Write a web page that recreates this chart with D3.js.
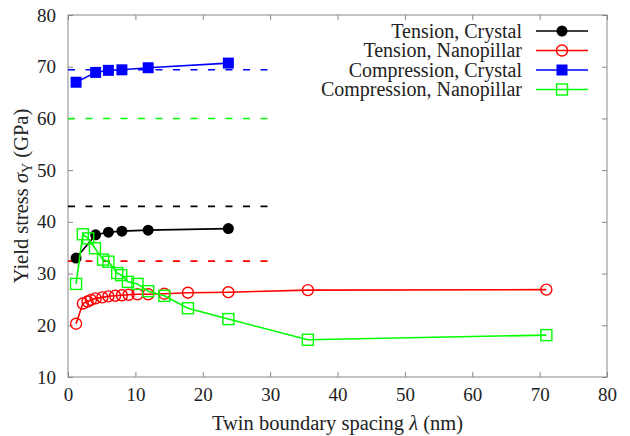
<!DOCTYPE html>
<html><head><meta charset="utf-8">
<script src="https://cdn.jsdelivr.net/npm/d3@7"></script>
<style>body{margin:0;background:#fff}svg{display:block}</style>
</head><body><svg id="c" width="630" height="436"></svg>
<script>
// Data
const seriesNames = ["Tension, Crystal","Tension, Nanopillar","Compression, Crystal","Compression, Nanopillar"];
const tensionCrystalX = [1.2, 4.1, 6.0, 8.0, 11.9, 23.8];
const tensionCrystalY = [33.0, 37.5, 38.0, 38.2, 38.4, 38.7];
const tensionPillarX = [1.2, 2.2, 2.9, 3.4, 4.1, 5.1, 6.0, 7.0, 8.0, 9.0, 10.3, 11.9, 14.3, 17.8, 23.8, 35.6, 71.0];
const tensionPillarY = [20.3, 24.2, 24.6, 24.9, 25.2, 25.4, 25.6, 25.7, 25.8, 25.9, 26.0, 26.0, 26.1, 26.3, 26.4, 26.8, 26.9];
const compCrystalX = [1.2, 4.1, 6.0, 8.0, 11.9, 23.8];
const compCrystalY = [67.0, 68.9, 69.3, 69.4, 69.8, 70.7];
const compPillarX = [1.2, 2.2, 3.0, 4.0, 5.2, 6.0, 7.3, 7.9, 8.9, 10.3, 11.9, 14.3, 17.8, 23.8, 35.6, 71.0];
const compPillarY = [28.0, 37.6, 36.8, 34.9, 32.7, 32.3, 30.1, 29.7, 28.4, 28.0, 26.6, 25.7, 23.3, 21.2, 17.2, 18.1];
const refLevels = [43.0, 32.4, 69.4, 60.0]; // dashed reference lines, same order as seriesNames
const refRange = [0, 30];
const xTicks = [0,10,20,30,40,50,60,70,80];
const yTicks = [10,20,30,40,50,60,70,80];
const colors = ["#000000","#ff0000","#0000ff","#00ff00"];
const markers = ["circleFilled","circleOpen","squareFilled","squareOpen"];

const F = "Liberation Serif";
const svg = d3.select("#c");
const L=68, R=607, T=15, B=377;
const x = d3.scaleLinear().domain([0,80]).range([L,R]);
const y = d3.scaleLinear().domain([10,80]).range([B,T]);

const series = [
  {xs:tensionCrystalX, ys:tensionCrystalY},
  {xs:tensionPillarX, ys:tensionPillarY},
  {xs:compCrystalX, ys:compCrystalY},
  {xs:compPillarX, ys:compPillarY}
].map((s,i)=>({name:seriesNames[i], color:colors[i], marker:markers[i], ref:refLevels[i],
  pts:s.xs.map((v,j)=>[v,s.ys[j]])}));

// frame
const frameColor="#888";
svg.append("rect").attr("x",L).attr("y",T).attr("width",R-L).attr("height",B-T)
  .attr("fill","none").attr("stroke",frameColor).attr("stroke-width",1);

// axes with inward ticks
const ax = svg.append("g").attr("transform",`translate(0,${B})`)
  .call(d3.axisBottom(x).tickValues(xTicks).tickSizeInner(-5).tickSizeOuter(0).tickPadding(11).tickFormat(d3.format("d")));
const axTop = svg.append("g").attr("transform",`translate(0,${T})`)
  .call(d3.axisTop(x).tickValues(xTicks).tickSizeInner(-5).tickSizeOuter(0).tickFormat(""));
const ay = svg.append("g").attr("transform",`translate(${L},0)`)
  .call(d3.axisLeft(y).tickValues(yTicks).tickSizeInner(-5).tickSizeOuter(0).tickPadding(12).tickFormat(d3.format("d")));
const ayR = svg.append("g").attr("transform",`translate(${R},0)`)
  .call(d3.axisRight(y).tickValues(yTicks).tickSizeInner(-5).tickSizeOuter(0).tickFormat(""));
[ax,axTop,ay,ayR].forEach(g=>{
  g.select(".domain").remove();
  g.selectAll(".tick line").attr("stroke",frameColor);
  g.selectAll("text").attr("font-family",F).attr("font-size",19).attr("fill","#222");
});

// dashed reference lines
series.forEach(s=>{
  svg.append("line").attr("x1",x(refRange[0])).attr("x2",x(refRange[1]))
    .attr("y1",y(s.ref)).attr("y2",y(s.ref))
    .attr("stroke",s.color).attr("stroke-width",1.6).attr("stroke-dasharray","7,10.5");
});

function drawMarker(g, type, color, cx, cy){
  if(type==="circleFilled") g.append("circle").attr("cx",cx).attr("cy",cy).attr("r",5.5).attr("fill",color);
  else if(type==="circleOpen") g.append("circle").attr("cx",cx).attr("cy",cy).attr("r",5.5).attr("fill","none").attr("stroke",color).attr("stroke-width",1.4);
  else if(type==="squareFilled") g.append("rect").attr("x",cx-5.5).attr("y",cy-5.5).attr("width",11).attr("height",11).attr("fill",color);
  else g.append("rect").attr("x",cx-5.5).attr("y",cy-5.5).attr("width",11).attr("height",11).attr("fill","none").attr("stroke",color).attr("stroke-width",1.4);
}

const line = d3.line().x(d=>x(d[0])).y(d=>y(d[1]));
series.forEach(s=>{
  const g = svg.append("g");
  g.append("path").attr("d",line(s.pts)).attr("fill","none").attr("stroke",s.color).attr("stroke-width",1.6);
  s.pts.forEach(p=>drawMarker(g,s.marker,s.color,x(p[0]),y(p[1])));
});

// legend
series.forEach((s,i)=>{
  const yy = 31 + i*19.5;
  svg.append("text").attr("x",522).attr("y",yy+6.5).attr("text-anchor","end")
    .attr("fill","#222").attr("font-family",F).attr("font-size",20).text(s.name);
  svg.append("line").attr("x1",536).attr("x2",588).attr("y1",yy).attr("y2",yy).attr("stroke",s.color).attr("stroke-width",1.6);
  drawMarker(svg,s.marker,s.color,562,yy);
});

// axis labels
const xl = svg.append("text").attr("x",(L+R)/2).attr("y",430).attr("text-anchor","middle")
  .attr("fill","#222").attr("font-family",F).attr("font-size",20.5);
xl.append("tspan").text("Twin boundary spacing ");
xl.append("tspan").attr("font-style","italic").text("λ");
xl.append("tspan").text(" (nm)");

const yl = svg.append("text").attr("transform",`translate(28,${(T+B)/2}) rotate(-90)`).attr("text-anchor","middle")
  .attr("fill","#222").attr("font-family",F).attr("font-size",20.5);
yl.append("tspan").text("Yield stress ");
yl.append("tspan").attr("font-style","italic").text("σ");
yl.append("tspan").attr("dy",4).attr("font-size",14).text("Y");
yl.append("tspan").attr("dy",-4).text(" (GPa)");
</script></body></html>
